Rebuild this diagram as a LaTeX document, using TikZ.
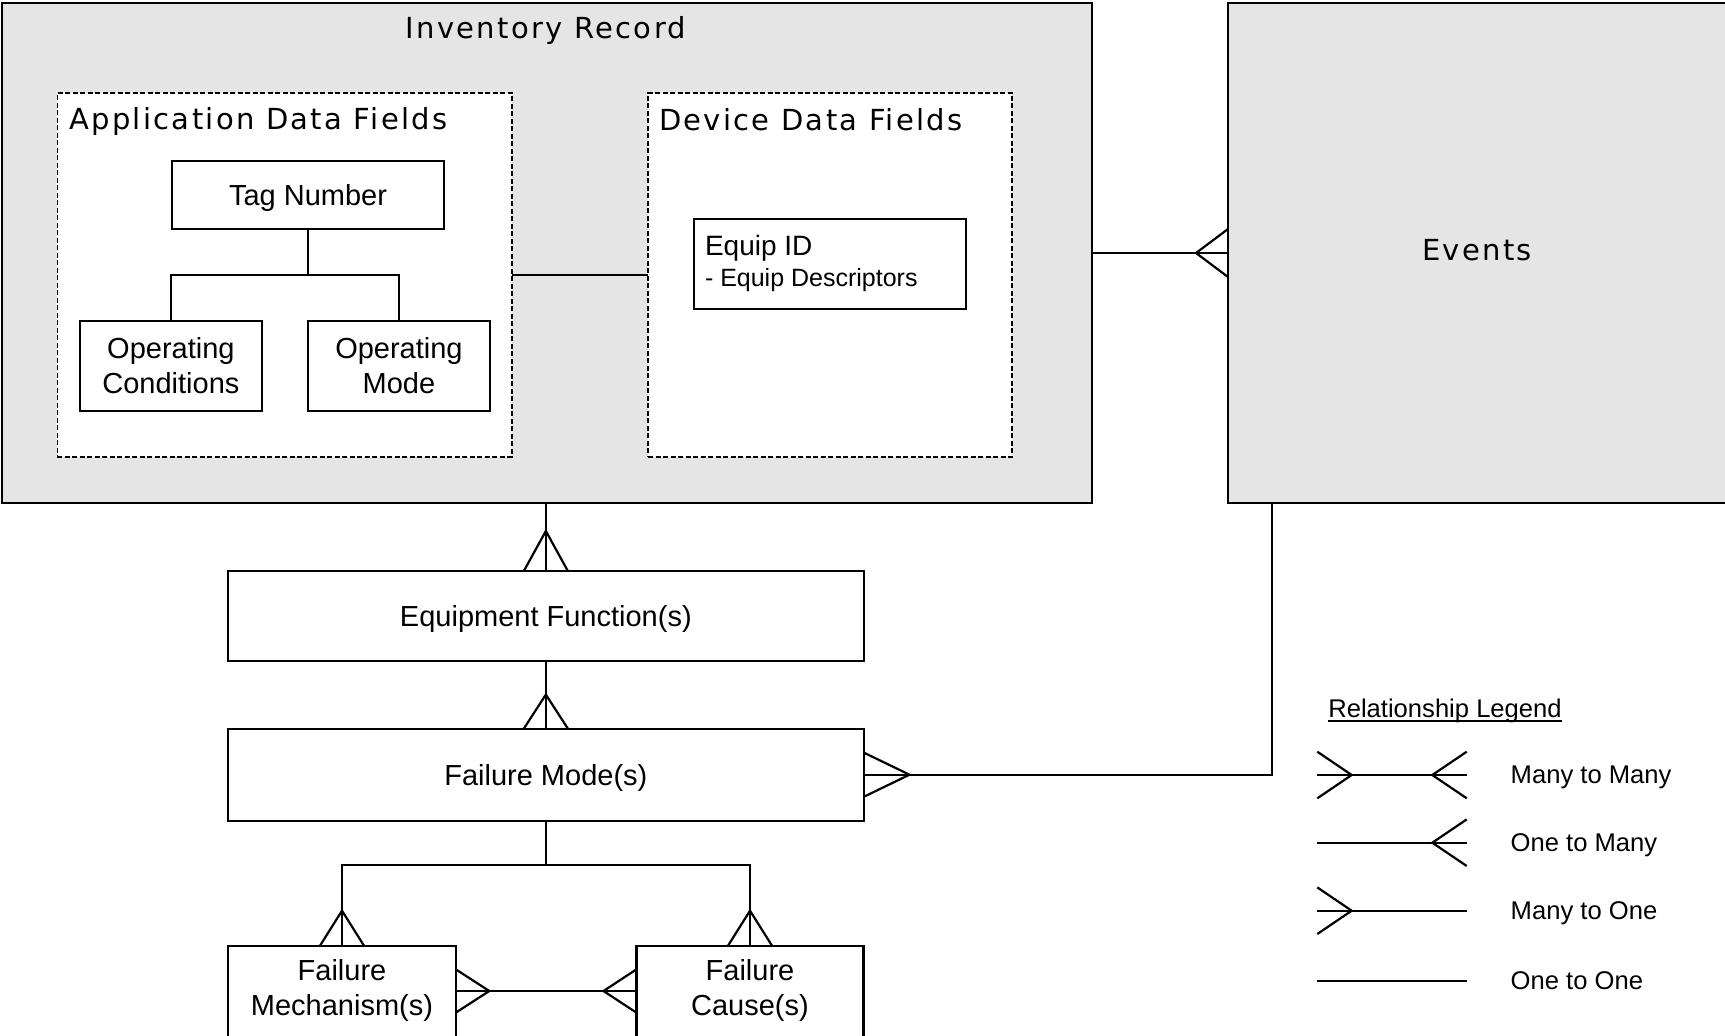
\documentclass[tikz,border=0pt]{standalone}
\usepackage{fontspec}
\usetikzlibrary{calc}
\newfontfamily\boxfont{Liberation Sans}
\newfontfamily\headfont{DejaVu Sans}[LetterSpace=8]
\definecolor{panelgray}{RGB}{229,229,229}

\tikzset{
  ln/.style={line width=2.2pt},
  box/.style={draw, line width=2.2pt, fill=white, inner sep=0pt, outer sep=0pt,
    align=center, font=\boxfont\fontsize{29}{35}\selectfont},
  onebox/.style={box, text depth=0pt},
  boxtext/.style={inner sep=0pt, outer sep=0pt, align=center,
    font=\boxfont\fontsize{29}{35}\selectfont},
  panel/.style={draw, line width=2.2pt, fill=panelgray, inner sep=0pt, outer sep=0pt},
  group/.style={draw, line width=1.6pt, dash pattern=on 5pt off 2.5pt, fill=white,
    inner sep=0pt, outer sep=0pt},
  head/.style={font=\headfont\fontsize{29}{35}\selectfont, inner sep=0pt, outer sep=0pt},
  legtxt/.style={font=\boxfont\fontsize{25.6}{30}\selectfont, inner sep=0pt, outer sep=0pt},
  smalltxt/.style={font=\boxfont\fontsize{25}{30}\selectfont, inner sep=0pt, outer sep=0pt},
  idtxt/.style={font=\boxfont\fontsize{28}{33}\selectfont, inner sep=0pt, outer sep=0pt},
}

\begin{document}
\begin{tikzpicture}[x=1pt,y=-1pt]
\useasboundingbox (0,0) rectangle (1725,1036);
\fill[white] (0,0) rectangle (1725,1036);

% Inventory record panel and its two field groups
\node[panel, minimum width=1090, minimum height=500] (inv) at (547,253) {};
\node[head, anchor=base] (invtitle) at (546,38.3) {Inventory Record};

\node[group, minimum width=454.6, minimum height=363.7] (app) at (284.7,274.85) {};
\node[head, anchor=base west] (applbl) at (69.3,129.5) {Application Data Fields};

\node[group, minimum width=364.2, minimum height=363.7] (dev) at (830.1,274.85) {};
\node[head, anchor=base west] (devlbl) at (659,130) {Device Data Fields};

% Application data fields
\node[onebox, minimum width=272.5, minimum height=68] (tag) at (308.05,195) {Tag Number};
\node[box, minimum width=182.6, minimum height=90] (opc) at (170.9,366) {Operating\\Conditions};
\node[box, minimum width=182.5, minimum height=90] (opm) at (398.95,366) {Operating\\Mode};
\coordinate (tj) at ($(tag.south)+(0,46)$);
\draw[ln] (tag.south) -- (tj);
\draw[ln] (opc.north) |- (tj) -| (opm.north);

% Device data fields
\node[box, minimum width=272.3, minimum height=90] (eq) at (830.15,264) {};
\node[idtxt, anchor=base west] (eqid) at ($(eq.north west)+(11,36)$) {Equip ID};
\node[smalltxt, anchor=base west] (eqdesc) at ($(eq.north west)+(11,67.7)$) {- Equip Descriptors};

\draw[ln] (app.east) -- (dev.west);

% Events panel
\node[panel, minimum width=500, minimum height=500, anchor=north west] (evt) at (1228,3) {};
\node[head] (evttxt) at (1477,250.3) {Events};

\draw[ln] (inv.east) -- (evt.west);
\draw[ln] ($(evt.west)+(0,-24)$) -- ($(evt.west)+(-32,0)$) -- ($(evt.west)+(0,24)$);

% Function and failure chain
\node[onebox, minimum width=636.3, minimum height=90] (ef) at (545.85,616) {Equipment Function(s)};
\node[onebox, minimum width=636.3, minimum height=92.2] (fm) at (545.85,774.7) {Failure Mode(s)};

\draw[ln] (ef.north) -- (ef.north |- inv.south);
\draw[ln] ($(ef.north)+(-22,0)$) -- ($(ef.north)+(0,-40)$) -- ($(ef.north)+(22,0)$);

\draw[ln] (ef.south) -- (fm.north);
\draw[ln] ($(fm.north)+(-22,0)$) -- ($(fm.north)+(0,-34)$) -- ($(fm.north)+(22,0)$);

\coordinate (evtlink) at ($(evt.south west)+(44,0)$);
\draw[ln] (fm.east) -| (evtlink);
\draw[ln] ($(fm.east)+(0,-22)$) -- ($(fm.east)+(45.5,0)$) -- ($(fm.east)+(0,22)$);

\node[box, minimum width=227.4, minimum height=100.3] (mech) at (342,995.85) {};
\node[box, minimum width=227, minimum height=100.3] (cause) at (750,995.85) {};
\node[boxtext] (mechtxt) at ($(mech.north)+(0,44.4)$) {Failure\\Mechanism(s)};
\node[boxtext] (causetxt) at ($(cause.north)+(0,44.4)$) {Failure\\Cause(s)};

\coordinate (fj) at ($(fm.south)+(0,44)$);
\draw[ln] (fm.south) -- (fj);
\draw[ln] (mech.north) |- (fj) -| (cause.north);
\draw[ln] ($(mech.north)+(-22,0)$) -- ($(mech.north)+(0,-35)$) -- ($(mech.north)+(22,0)$);
\draw[ln] ($(cause.north)+(-22,0)$) -- ($(cause.north)+(0,-35)$) -- ($(cause.north)+(22,0)$);

\coordinate (mc) at ($(mech.north east)+(0,45.3)$);
\coordinate (cm) at (mc -| cause.west);
\draw[ln] (mc) -- (cm);
\draw[ln] ($(mc)+(0,-21.7)$) -- ($(mc)+(33.6,0)$) -- ($(mc)+(0,21.7)$);
\draw[ln] ($(cm)+(0,-21.7)$) -- ($(cm)+(-33,0)$) -- ($(cm)+(0,21.7)$);

% Relationship legend
\node[legtxt, anchor=base west] (legtitle) at (1328.3,717.3) {Relationship Legend};
\draw[line width=1.6pt] ($(legtitle.base west)+(0,3.4)$) -- ($(legtitle.base east)+(0,3.4)$);

\foreach \name/\y/\lft/\rgt/\txt in {mm/775/1/1/Many to Many, om/842.7/0/1/One to Many,
    mo/910.7/1/0/Many to One, oo/980.7/0/0/One to One}{
  \coordinate (\name a) at (1317.3,\y);
  \coordinate (\name b) at (1466.7,\y);
  \draw[ln] (\name a) -- (\name b);
  \ifnum\lft=1
    \draw[ln] ($(\name a)+(0,-23.3)$) -- ($(\name a)+(34.4,0)$) -- ($(\name a)+(0,23.3)$);
  \fi
  \ifnum\rgt=1
    \draw[ln] ($(\name b)+(0,-23.3)$) -- ($(\name b)+(-34.4,0)$) -- ($(\name b)+(0,23.3)$);
  \fi
  \node[legtxt, anchor=base west] (\name t) at (1510.7,\y+8.3) {\txt};
}
\end{tikzpicture}
\end{document}
